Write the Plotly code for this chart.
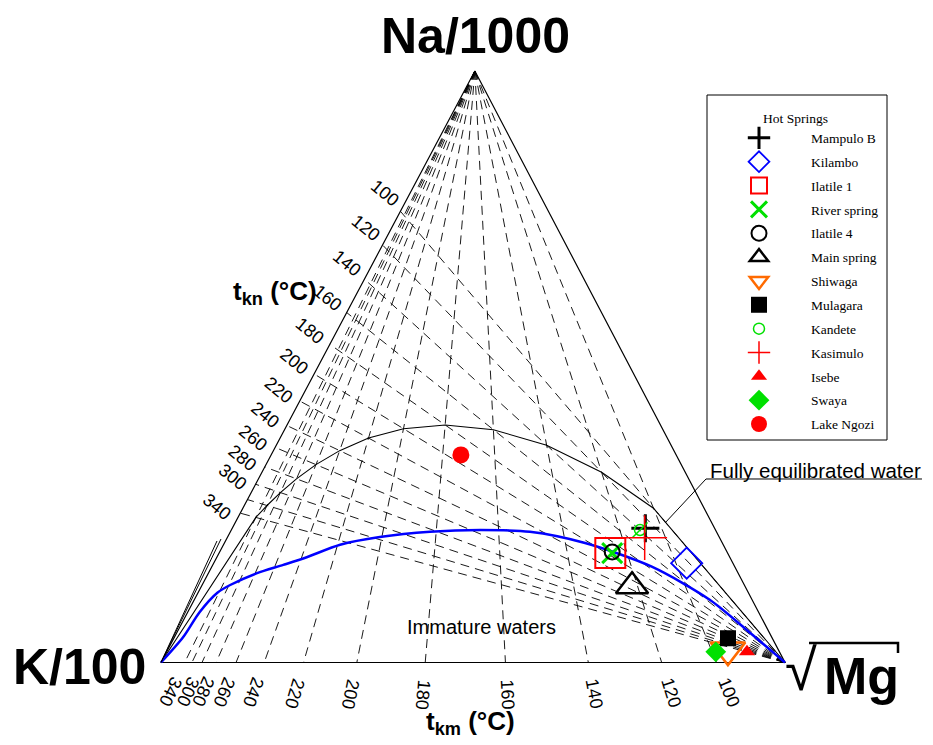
import numpy as np
import plotly.graph_objects as go

# ----------------------------------------------------------------- data
SPRINGS = ["Mampulo B", "Kilambo", "Ilatile 1", "River spring", "Ilatile 4",
           "Main spring", "Shiwaga", "Mulagara", "Kandete", "Kasimulo",
           "Isebe", "Swaya", "Lake Ngozi"]
# relative proportions (%) of Na/1000, K/100 and sqrt(Mg)
NA_1000 = [22.7, 16.8, 18.5, 18.5, 18.7, 12.9, 2.1, 4.1, 22.4, 21.1, 1.8, 1.8, 35.1]
K_100 = [11.1, 7.4, 18.8, 18.5, 18.4, 18.1, 8.1, 7.1, 12.1, 12.0, 5.2, 10.2, 34.5]
SQRT_MG = [66.2, 75.8, 62.7, 63.0, 62.9, 69.0, 89.8, 88.8, 65.5, 66.9, 93.0, 88.0, 30.4]

ISOTHERMS = [100, 120, 140, 160, 180, 200, 220, 240, 260, 280, 300, 320, 340]
TKN_LABELS = [100, 120, 140, 160, 180, 200, 220, 240, 260, 280, 300, 340]
TKM_LABELS = [100, 120, 140, 160, 180, 200, 220, 240, 260, 280, 300, 340]

# partial-equilibrium (immature water) boundary (%)
PARTIAL_NA = [0, 4.3, 8.5, 11.8, 13.1, 15.1, 16.5, 17.8, 19.9, 21.2, 22.1, 22.4, 22.1, 20.2, 16.2, 10.6, 5.5, 0]
PARTIAL_K = [100, 94.3, 89.6, 85.1, 82.4, 77.1, 72.2, 67.8, 61.4, 54.4, 45.9, 37.7, 29.9, 22.0, 13.3, 6.8, 3.4, 0]
PARTIAL_MG = [0, 1.4, 1.9, 3.1, 4.5, 7.8, 11.3, 14.4, 18.7, 24.4, 32.0, 39.9, 48.0, 57.8, 70.5, 82.6, 91.1, 100]

# ----------------------------------------------------------------- geometry / scales
W, H = 933, 745
X0, Y0 = 161.0, 662.5      # pixel of the K/100 corner
SX, SY = 624.0, 591.5      # pixel width / height of the triangle
APEX = 0.503               # horizontal position of the Na/1000 apex


def tern(na, k, mg):
    na, k, mg = (np.asarray(v, dtype=float) for v in (na, k, mg))
    tot = na + k + mg
    na, k, mg = na / tot, k / tot, mg / tot
    return mg + APEX * na, na


def nak(t):      # Na/K  (Arnorsson 1983)
    return 10 ** (933.0 / (t + 273.15) - 0.993)


def k2mg(t):     # K^2/Mg (Giggenbach 1988)
    return 10 ** (14.0 - 4410.0 / (t + 273.15))


def kn_edge(t):  # point on the Na-K side
    return nak(t) / 10.0, 1.0, 0.0


def km_edge(t):  # point on the K-Mg side
    return 0.0, np.sqrt(k2mg(t)) / 100.0, 1.0


def to_pix(x, y):
    return X0 + SX * x, Y0 - SY * y


def from_pix(px, py):
    return (px - X0) / SX, (Y0 - py) / SY


def paper(px, py):
    return px / W, 1 - py / H


fig = go.Figure()

# triangle outline
tx, ty = tern([0, 0, 100, 0], [100, 0, 0, 100], [0, 100, 0, 0])
fig.add_trace(go.Scatter(x=tx, y=ty, mode="lines", line=dict(color="black", width=1.2),
                         showlegend=False, hoverinfo="skip"))

# t_kn isotherms (from sqrt(Mg) corner) and t_km isotherms (from Na corner)
xs, ys = [], []
for t in ISOTHERMS:
    ex, ey = tern(*kn_edge(t))
    vx, vy = tern(0, 0, 1)
    xs += [float(vx), float(ex), None]
    ys += [float(vy), float(ey), None]
for t in ISOTHERMS:
    ex, ey = tern(*km_edge(t))
    vx, vy = tern(1, 0, 0)
    xs += [float(vx), float(ex), None]
    ys += [float(vy), float(ey), None]
fig.add_trace(go.Scatter(x=xs, y=ys, mode="lines",
                         line=dict(color="black", width=0.9, dash="9px,6px"),
                         showlegend=False, hoverinfo="skip"))

# full equilibrium line: intersections of equal-temperature isotherms
fe_na, fe_k, fe_mg = [0.0], [1.0], [0.0]
for t in sorted(ISOTHERMS, reverse=True):
    n, k, _ = kn_edge(t)
    a_na, a_k = n / (n + k), k / (n + k)
    q = km_edge(t)[1]
    s = q / (a_k + q)
    fe_na.append(s * a_na)
    fe_k.append(s * a_k)
    fe_mg.append(1 - s)
fe_na.append(0.0); fe_k.append(0.0); fe_mg.append(1.0)
fx, fy = tern(fe_na, fe_k, fe_mg)
fig.add_trace(go.Scatter(x=fx, y=fy, mode="lines", line=dict(color="black", width=1.1),
                         showlegend=False, hoverinfo="skip"))

# partial equilibrium line
px_, py_ = tern(PARTIAL_NA, PARTIAL_K, PARTIAL_MG)
fig.add_trace(go.Scatter(x=px_, y=py_, mode="lines",
                         line=dict(color="#0000ff", width=2.5, shape="spline", smoothing=0.8),
                         showlegend=False, hoverinfo="skip"))

# samples
GREEN = "#00e000"
STYLE = {
    "Mampulo B": dict(symbol="cross-thin-open", color="black", size=20, lw=3),
    "Kilambo": dict(symbol="diamond-open", color="#0000ff", size=24, lw=1.8),
    "Ilatile 1": dict(symbol="square-open", color="#ff0000", size=30, lw=2),
    "River spring": dict(symbol="x-thin-open", color=GREEN, size=20, lw=3),
    "Ilatile 4": dict(symbol="circle-open", color="black", size=15, lw=2),
    "Main spring": dict(symbol="triangle-up-open", color="black", size=28, lw=2.5),
    "Shiwaga": dict(symbol="triangle-down-open", color="#ff6a00", size=30, lw=2.5),
    "Mulagara": dict(symbol="square", color="black", size=16, lw=0),
    "Kandete": dict(symbol="circle-open", color=GREEN, size=11, lw=1.5),
    "Kasimulo": dict(symbol="cross-thin-open", color="#ff0000", size=32, lw=1.5),
    "Isebe": dict(symbol="triangle-up", color="#ff0000", size=14, lw=0),
    "Swaya": dict(symbol="diamond", color=GREEN, size=16, lw=0),
    "Lake Ngozi": dict(symbol="circle", color="#ff0000", size=17, lw=0),
}
sx, sy = tern(NA_1000, K_100, SQRT_MG)
for i, name in enumerate(SPRINGS):
    st = STYLE[name]
    fig.add_trace(go.Scatter(
        x=[sx[i]], y=[sy[i]], mode="markers", name=name, legendgroup=name,
        marker=dict(symbol=st["symbol"], size=st["size"], color=st["color"],
                    line=dict(color=st["color"], width=st["lw"])),
    ))
    if name == "Kandete":
        fig.add_trace(go.Scatter(
            x=[sx[i]], y=[sy[i]], mode="markers", showlegend=False, legendgroup=name,
            marker=dict(symbol="line-ne-open", size=15, color=GREEN,
                        line=dict(color=GREEN, width=1.5)),
        ))

# ----------------------------------------------------------------- labels
ann = []
SANS = "Liberation Sans"
# t_km labels at the K-Mg side, along the isotherm direction
for t in TKM_LABELS:
    ex, ey = tern(*km_edge(t))
    ax, ay = tern(1, 0, 0)
    epx, epy = to_pix(ex, ey)
    apx, apy = to_pix(ax, ay)
    dx, dy = epx - apx, epy - apy
    L = np.hypot(dx, dy)
    ux, uy = dx / L, dy / L
    cx, cy = from_pix(epx + 32 * ux, epy + 32 * uy)
    ang = np.degrees(np.arctan2(dy, dx))
    ann.append(dict(x=cx, y=cy, xref="x", yref="y", text=str(t), showarrow=False,
                    xanchor="center", yanchor="middle",
                    textangle=ang, font=dict(family=SANS, size=18, color="black")))
# t_kn labels beyond the Na-K side
for t in TKN_LABELS:
    ex, ey = tern(*kn_edge(t))
    mx, my = tern(0, 0, 1)
    epx, epy = to_pix(ex, ey)
    mpx, mpy = to_pix(mx, my)
    dx, dy = epx - mpx, epy - mpy
    L = np.hypot(dx, dy)
    ux, uy = dx / L, dy / L
    cx, cy = from_pix(epx + 24 * ux, epy + 24 * uy)
    ann.append(dict(x=cx, y=cy, xref="x", yref="y", text=str(t), showarrow=False,
                    xanchor="center", yanchor="middle",
                    textangle=39, font=dict(family=SANS, size=18, color="black")))


def text_at(px, py, text, size, xanchor="center", **kw):
    x, y = paper(px, py)
    d = dict(x=x, y=y, xref="paper", yref="paper", text=text, showarrow=False,
             xanchor=xanchor, yanchor="middle",
             font=dict(family=SANS, size=size, color="black"))
    d.update(kw)
    ann.append(d)


text_at(475, 36, "<b>Na/1000</b>", 50)
text_at(79, 667, "<b>K/100</b>", 50)
text_at(801, 669, "√", 58)
text_at(861, 676, "<b>Mg</b>", 52)
text_at(275, 292, "<b>t<sub>kn</sub> (°C)</b>", 26)
text_at(470, 722, "<b>t<sub>km</sub> (°C)</b>", 26)
text_at(481, 627, "Immature waters", 20)
text_at(708, 470, "Fully equilibrated water", 20.5, xanchor="left")

shapes = []
# legend frame
lx0, ly0 = paper(707, 95)
lx1, ly1 = paper(887, 440)
shapes.append(dict(type="rect", xref="paper", yref="paper", x0=lx0, x1=lx1, y0=ly1, y1=ly0,
                   line=dict(color="black", width=1)))


def ppath(points):
    s = ""
    for i, (a, b) in enumerate(points):
        x, y = paper(a, b)
        s += ("M" if i == 0 else "L") + f"{x:.5f},{y:.5f} "
    return s


shapes.append(dict(type="path", xref="paper", yref="paper",
                   path=ppath([(665, 523), (706, 479), (922, 479)]),
                   line=dict(color="black", width=1)))
shapes.append(dict(type="path", xref="paper", yref="paper",
                   path=ppath([(809, 643), (898, 643), (898, 653)]),
                   line=dict(color="black", width=2.5)))
# double guide stroke outside the K corner
for top in [(217, 541), (221, 539)]:
    shapes.append(dict(type="path", xref="paper", yref="paper",
                       path=ppath([(161, 662.5), top]),
                       line=dict(color="black", width=1)))

lgx, lgy = paper(707, 105)
fig.update_layout(
    width=W, height=H, margin=dict(l=0, r=0, t=0, b=0),
    paper_bgcolor="white", plot_bgcolor="white",
    xaxis=dict(range=[(0 - X0) / SX, (W - X0) / SX], visible=False, fixedrange=True),
    yaxis=dict(range=[(Y0 - H) / SY, Y0 / SY], visible=False, fixedrange=True),
    annotations=ann, shapes=shapes,
    legend=dict(x=lgx, y=lgy, xanchor="left", yanchor="top",
                bgcolor="rgba(0,0,0,0)", borderwidth=0,
                title=dict(text="Hot Springs", side="top center",
                           font=dict(family="Liberation Serif", size=13.5)),
                font=dict(family="Liberation Serif", size=13.5, color="black"),
                itemwidth=94, tracegroupgap=3.3, traceorder="grouped"),
)

fig.write_html("out.html")
